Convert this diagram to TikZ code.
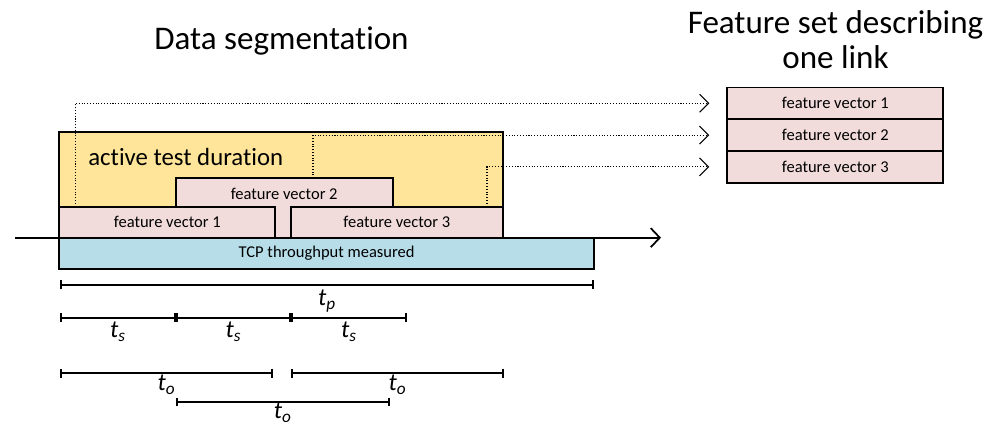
\documentclass[tikz,border=0pt]{standalone}
\usepackage{fontspec}
\setmainfont{Carlito}[Ligatures=NoCommon]
\usetikzlibrary{arrows.meta,positioning,calc}
\definecolor{durfill}{RGB}{255,229,153}
\definecolor{vecfill}{RGB}{242,220,219}
\definecolor{tcpfill}{RGB}{183,222,232}
\newcommand{\tlab}[1]{\fontsize{14}{16}\selectfont\itshape t\textsubscript{#1}}

\begin{document}
\begin{tikzpicture}[box/.style={draw=black,line width=1pt,inner sep=0pt,outer sep=0pt},
  vec/.style={box,fill=vecfill,font=\fontsize{9.4}{11}\selectfont},
  dots/.style={densely dotted,line width=0.6pt,-{Straight Barb[length=0.18cm,width=0.36cm,line width=0.6pt]}},
  span/.style={line width=1.1pt,{Bar[width=0.18cm]}-{Bar[width=0.18cm]}},
  tl/.style={inner sep=0pt},
  title/.style={font=\fontsize{18.8}{20}\selectfont,align=center}]
 \useasboundingbox (0,0) rectangle (19.94,-8.52);

 \draw (5.63,-1.0) node[title,anchor=base] (segtitle) {Data segmentation};

 \draw (1.186,-2.634) node[box,anchor=north west,fill=durfill,minimum width=8.874cm,minimum height=2.12cm] (dur) {};
 \draw (1.76,-3.14) node[anchor=west,inner sep=0pt,font=\fontsize{14.1}{16}\selectfont] (durtext) {active test duration};

 \draw (3.514,-3.566) node[vec,anchor=north west,minimum width=4.34cm,minimum height=1.188cm] (fv2) {};
 \node[below=0.07cm of fv2.north,font=\fontsize{9.4}{11}\selectfont] (fv2text) {feature vector 2};

 \draw (1.186,-4.134) node[vec,anchor=north west,minimum width=4.32cm,minimum height=0.62cm] (fv1)
              {feature vector 1};
 \draw (5.814,-4.134) node[vec,anchor=north west,minimum width=4.246cm,minimum height=0.62cm] (fv3)
              {feature vector 3};

 \draw (1.186,-4.754) node[box,anchor=north west,fill=tcpfill,minimum width=10.694cm,minimum height=0.626cm,
              font=\fontsize{9.4}{11}\selectfont] (tcp) {TCP throughput measured};

 \coordinate (ax0) at (0.3,-4.754);
 \coordinate (ax1) at (13.22,-4.754);
 \draw[line width=1pt,-{Straight Barb[length=0.18cm,width=0.38cm,line width=1pt]}] (ax0) -- (ax1);

 \draw (16.706,-2.066) node[vec,minimum width=4.32cm,minimum height=0.636cm] (set1) {feature vector 1};
 \node[vec,minimum width=4.32cm,minimum height=0.636cm,below=0pt of set1] (set2) {feature vector 2};
 \node[vec,minimum width=4.32cm,minimum height=0.636cm,below=0pt of set2] (set3) {feature vector 3};

 \draw (16.71,-1.366) node[title,anchor=base] (settitle) {Feature set describing\\one link};

 \draw[dots] ($(fv1.north west)+(0.32,0)$) |- ([xshift=-0.36cm]set1.west);
 \draw[dots] ($(fv2.north east)+(-1.594,0)$) |- ([xshift=-0.36cm]set2.west);
 \draw[dots] ($(fv3.north east)+(-0.32,0)$) |- ([xshift=-0.36cm]set3.west);

 \coordinate (p0) at (1.2,-5.7);
 \coordinate (p1) at (11.88,-5.7);
 \draw[span] (p0) -- (p1) node[tl,midway,below=2.2pt] {\tlab{p}};

 \foreach \i/\x in {0/1.2,1/3.52,2/5.82,3/8.14}
   \coordinate (s\i) at (\x,-6.36);
 \foreach \a/\b in {0/1,1/2,2/3}
   \draw[span] (s\a) -- (s\b) node[tl,midway,below=1.6pt] {\tlab{s}};

 \coordinate (oa0) at (1.2,-7.46);
 \coordinate (oa1) at (5.46,-7.46);
 \coordinate (ob0) at (5.82,-7.46);
 \coordinate (ob1) at (10.08,-7.46);
 \coordinate (oc0) at (3.52,-8.04);
 \coordinate (oc1) at (7.79,-8.04);
 \draw[span] (oa0) -- (oa1) node[tl,midway,below=0.8pt] {\tlab{o}};
 \draw[span] (ob0) -- (ob1) node[tl,midway,below=0.8pt] {\tlab{o}};
 \draw[span] (oc0) -- (oc1) node[tl,midway,below=0pt] {\tlab{o}};

\end{tikzpicture}
\end{document}
